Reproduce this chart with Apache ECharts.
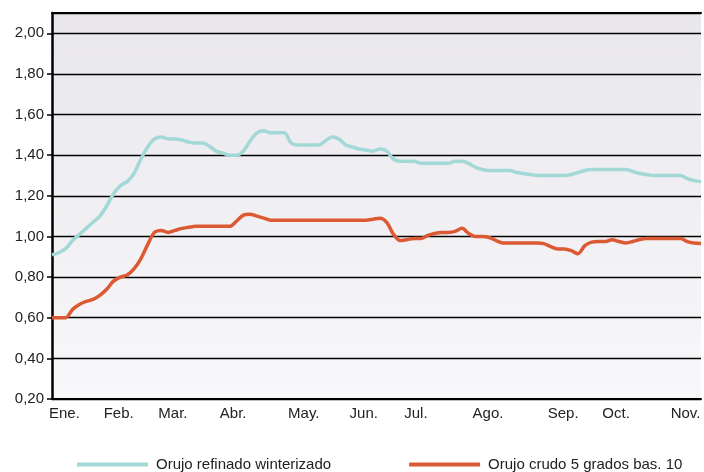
<!DOCTYPE html>
<html>
<head>
<meta charset="utf-8">
<script src="https://cdn.jsdelivr.net/npm/echarts@6/dist/echarts.min.js"></script>
<style>
html,body{margin:0;padding:0;background:#fff;overflow:hidden;}
#c{width:704px;height:472px;}
</style>
</head>
<body>
<div id="c"></div>
<script>
// Month tick labels and the category index where each appears
const monthLabels = ['Ene.','Feb.','Mar.','Abr.','May.','Jun.','Jul.','Ago.','Sep.','Oct.','Nov.'];
const monthIndex  = [0, 8, 16, 25, 35, 44, 52, 62, 73, 81, 91];
const seriesNames = ['Orujo refinado winterizado', 'Orujo crudo 5 grados bas. 10'];

// Orujo refinado winterizado (96 readings, half-week steps)
const refinado = [
  0.91,0.92,0.94,0.98,1.01,1.04,1.07,1.10,1.15,1.21,
  1.25,1.27,1.31,1.38,1.44,1.48,1.49,1.48,1.48,1.475,
  1.465,1.46,1.46,1.445,1.42,1.41,1.40,1.40,1.42,1.47,
  1.51,1.52,1.51,1.51,1.51,1.46,1.45,1.45,1.45,1.45,
  1.47,1.49,1.48,1.45,1.44,1.43,1.425,1.42,1.43,1.42,
  1.38,1.37,1.37,1.37,1.36,1.36,1.36,1.36,1.36,1.37,
  1.37,1.36,1.34,1.33,1.325,1.325,1.325,1.325,1.315,1.31,
  1.305,1.30,1.30,1.30,1.30,1.30,1.305,1.315,1.325,1.33,
  1.33,1.33,1.33,1.33,1.33,1.32,1.31,1.305,1.30,1.30,
  1.30,1.30,1.30,1.285,1.275,1.27
];

// Orujo crudo 5 grados bas. 10
const crudo = [
  0.60,0.60,0.60,0.64,0.665,0.68,0.69,0.71,0.74,0.78,
  0.80,0.81,0.84,0.89,0.96,1.02,1.03,1.02,1.03,1.04,
  1.045,1.05,1.05,1.05,1.05,1.05,1.05,1.075,1.105,1.11,
  1.10,1.09,1.08,1.08,1.08,1.08,1.08,1.08,1.08,1.08,
  1.08,1.08,1.08,1.08,1.08,1.08,1.08,1.085,1.09,1.07,
  1.01,0.98,0.985,0.99,0.99,1.005,1.015,1.02,1.02,1.025,
  1.04,1.015,1.00,1.00,0.995,0.98,0.968,0.968,0.968,0.968,
  0.968,0.968,0.965,0.95,0.938,0.938,0.93,0.915,0.955,0.972,
  0.975,0.975,0.984,0.975,0.968,0.975,0.985,0.99,0.99,0.99,
  0.99,0.99,0.99,0.975,0.968,0.965
];

const categories = refinado.map(function(_, i){
  const k = monthIndex.indexOf(i);
  return k >= 0 ? monthLabels[k] : '';
});

const chart = echarts.init(document.getElementById('c'), null, {renderer:'canvas'});
const font = '"Liberation Sans", Arial, Helvetica, sans-serif';
chart.setOption({
  animation: false,
  backgroundColor: '#ffffff',
  grid: {
    left: 52, right: 0, top: 13, bottom: 73,
    show: true, borderWidth: 0,
    backgroundColor: {
      type: 'linear', x: 0, y: 0, x2: 0, y2: 1,
      colorStops: [{offset: 0, color: '#e9e7ec'}, {offset: 1, color: '#f8f7f9'}]
    }
  },
  legend: {
    data: seriesNames,
    left: 72, top: 452,
    icon: 'rect', itemWidth: 71, itemHeight: 4, itemGap: 78,
    textStyle: {fontFamily: font, fontSize: 15, color: '#222', padding: [0,0,0,3]}
  },
  xAxis: [{
    type: 'category', data: categories, boundaryGap: false,
    axisLine: {lineStyle: {color: '#000', width: 2}},
    axisTick: {show: false},
    axisLabel: {interval: 0, align: 'left', margin: 7, fontFamily: font, fontSize: 15, color: '#222', padding: [0,0,0,-3]},
    splitLine: {show: false}
  }, {
    type: 'category', data: categories, boundaryGap: false, position: 'top',
    axisLine: {lineStyle: {color: '#000', width: 2}},
    axisTick: {show: false}, axisLabel: {show: false}
  }],
  yAxis: {
    type: 'value', min: 0.2, max: 2.1, interval: 0.2,
    axisLine: {show: true, lineStyle: {color: '#000', width: 2.5}},
    axisTick: {show: true, length: 5, lineStyle: {color: '#000', width: 1.5}},
    axisLabel: {
      margin: 8, fontFamily: font, fontSize: 15, color: '#222', showMaxLabel: false,
      formatter: function(v){ return v.toFixed(2).replace('.', ','); }
    },
    splitLine: {lineStyle: {color: '#000', width: 1.3}}
  },
  series: [{
    name: seriesNames[0], type: 'line', data: refinado, smooth: 0.3,
    showSymbol: false, symbol: 'none',
    lineStyle: {color: '#a2d8d6', width: 3.5}, itemStyle: {color: '#a2d8d6'}
  }, {
    name: seriesNames[1], type: 'line', data: crudo, smooth: 0.3,
    showSymbol: false, symbol: 'none',
    lineStyle: {color: '#dc5a33', width: 3.5}, itemStyle: {color: '#dc5a33'}
  }]
});
</script>
</body>
</html>
